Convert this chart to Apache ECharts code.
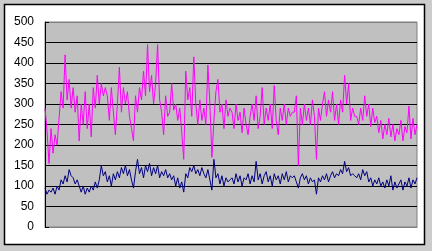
<!DOCTYPE html>
<html><head><meta charset="utf-8">
<script src="https://cdn.jsdelivr.net/npm/echarts@6/dist/echarts.min.js"></script>
<style>html,body{margin:0;padding:0;background:#CCCCCC;}#c{width:432px;height:251px;}</style>
</head><body><div id="c"></div>
<script>
const yTicks = [0,50,100,150,200,250,300,350,400,450,500];
const magentaA = [290,235,155,240,180,225,200,265,330,290,420,310,360,290,340,280,320,210,300,250,330,240,300,220,340,290,370,300,350,320,340];
const magentaB = [320,260,340,280,225,300,390,280,340,300,330,270,240,210,320,280,340,310,380,320,445,330,370,300,350,445,310,280,225,320,270];
const magentaC = [280,350,285,300,260,290,230,165,380,310,340,270,415,300,250,310,260,290,250,395,300,170,260,330,360,280,300,240,310,270,290];
const magentaD = [280,240,300,260,280,230,290,250,225,270,300,260,320,240,270,340,250,290,260,300,240,345,260,225,290,260,300,250,290,270,280];
const magentaE = [280,320,150,290,250,300,260,290,250,310,270,165,290,260,300,330,270,310,280,330,260,300,250,310,280,370,300,350,260,290,270];
const magentaF = [270,250,290,260,320,270,300,245,290,255,270,230,260,215,250,225,265,220,250,210,240,225,260,210,245,230,295,215,265,225,250];
const navyA = [95,80,90,85,95,80,100,90,115,105,125,110,140,125,120,105,115,100,85,100,80,95,85,100,90,110,95,115,150,125,135];
const navyB = [110,125,100,130,115,135,120,145,130,150,125,140,115,95,135,165,130,145,120,150,135,155,125,145,130,150,120,135,125,140,120];
const navyC = [130,115,125,100,120,95,110,85,130,120,145,135,150,130,140,125,145,130,120,140,115,90,165,120,130,105,125,100,120,110,115];
const navyD = [120,105,130,110,125,100,120,115,130,105,125,110,160,115,130,105,125,135,110,125,100,130,115,125,105,130,115,135,110,125,120];
const navyE = [125,110,95,120,130,115,125,105,120,110,115,80,120,110,125,115,130,110,125,135,120,130,125,140,130,160,135,145,125,130,125];
const navyF = [120,130,115,140,125,135,110,120,100,115,105,120,100,110,95,115,100,125,90,110,95,105,115,90,110,100,120,95,115,105,120];

const magenta = [].concat(magentaA, magentaB, magentaC, magentaD, magentaE, magentaF);
const navy = [].concat(navyA, navyB, navyC, navyD, navyE, navyF);
const categories = magenta.map((_, i) => String(i + 1));

const chart = echarts.init(document.getElementById('c'), null, {renderer: 'canvas'});
const gridColors = yTicks.map((v, i) => i === yTicks.length - 1 ? '#808080' : '#000000');
chart.setOption({
  animation: false,
  backgroundColor: '#CCCCCC',
  graphic: [{
    type: 'rect', z: -10, silent: true,
    shape: {x: 4.5, y: 4.5, width: 420, height: 240},
    style: {fill: '#FFFFFF', stroke: '#000000', lineWidth: 1.5}
  }],
  grid: {left: 45, top: 22, right: 15, bottom: 24, show: true,
         backgroundColor: '#C0C0C0', borderColor: '#808080', borderWidth: 1},
  xAxis: {
    type: 'category', data: categories, boundaryGap: false,
    axisLine: {show: true, lineStyle: {color: '#808080', width: 1}},
    axisTick: {show: false}, axisLabel: {show: false}, splitLine: {show: false}
  },
  yAxis: {
    type: 'value', min: yTicks[0], max: yTicks[yTicks.length - 1], interval: 50,
    axisLine: {show: true, lineStyle: {color: '#000000', width: 1}},
    axisTick: {show: true, inside: true, length: 4, lineStyle: {color: '#000000'}},
    axisLabel: {color: '#000000', fontSize: 12, fontFamily: 'Liberation Sans, Arial, sans-serif', margin: 11},
    splitLine: {show: true, lineStyle: {color: gridColors, width: 1}}
  },
  series: [
    {type: 'line', data: navy, showSymbol: false, lineStyle: {color: '#000080', width: 1}, itemStyle: {color: '#000080'}},
    {type: 'line', data: magenta, showSymbol: false, lineStyle: {color: '#FF00FF', width: 1}, itemStyle: {color: '#FF00FF'}}
  ]
});
</script>
</body></html>
